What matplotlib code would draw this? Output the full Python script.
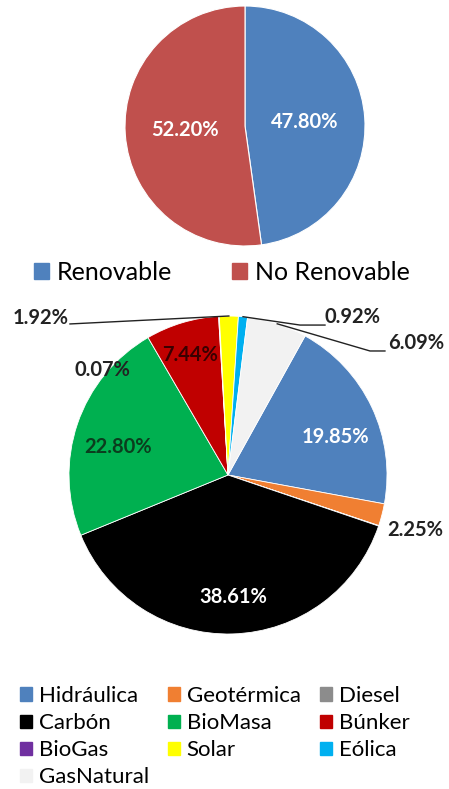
import numpy as np
from matplotlib import pyplot as plt
from matplotlib.patches import Patch

plt.rcParams["font.family"] = ["Lato", "DejaVu Sans"]

# top chart
share_labels = ["Renovable", "No Renovable"]
share_values = [47.80, 52.20]
share_colors = ["#4F81BD", "#C0504D"]

# bottom chart
source_labels = [
    "Hidráulica", "Geotérmica", "Diesel", "Carbón", "BioMasa",
    "Búnker", "BioGas", "Solar", "Eólica", "GasNatural",
]
source_values = [19.85, 2.25, 0.05, 38.61, 22.80, 7.44, 0.07, 1.92, 0.92, 6.09]
source_colors = [
    "#4F81BD", "#F07F32", "#8C8C8C", "#000000", "#00B050",
    "#C00000", "#7030A0", "#FFFF00", "#00B0F0", "#F2F2F2",
]

W, H = 449, 789
fig = plt.figure(figsize=(W / 100, H / 100), dpi=100)


def pie_axes(cx, cy, r):
    # axes box in pixels around a pie of radius 1
    ax = fig.add_axes([(cx - r) / W, 1 - (cy + r) / H, 2 * r / W, 2 * r / H])
    return ax


# --- top pie
ax1 = pie_axes(245, 126, 120)
ax1.pie(
    share_values,
    colors=share_colors,
    startangle=90,
    counterclock=False,
    radius=1,
    autopct="%.2f%%",
    pctdistance=0.5,
    wedgeprops=dict(edgecolor="white", linewidth=0.8),
    textprops=dict(color="white", fontsize=14.5, fontweight="bold"),
)
ax1.set_xlim(-1, 1)
ax1.set_ylim(-1, 1)
ax1.axis("off")

fig.legend(
    [Patch(color=c) for c in share_colors],
    share_labels,
    loc="center",
    bbox_to_anchor=(222 / W, 1 - 272 / H),
    ncol=2,
    frameon=False,
    fontsize=18,
    handlelength=0.6,
    handleheight=0.6,
    handletextpad=0.3,
    columnspacing=2.4,
)

# --- bottom pie
ax2 = pie_axes(228, 475, 159)
wedges, _ = ax2.pie(
    source_values,
    colors=source_colors,
    startangle=61,
    counterclock=False,
    radius=1,
    wedgeprops=dict(edgecolor="white", linewidth=0.6),
)
ax2.set_xlim(-1, 1)
ax2.set_ylim(-1, 1)
ax2.axis("off")

# label placement (data coords), text colour, leader line bend points
label_pos = {
    "Hidráulica": ((0.673, 0.239), "white", None),
    "Geotérmica": ((1.176, -0.346), "#222222", None),
    "Carbón": ((0.031, -0.767), "white", None),
    "BioMasa": ((-0.692, 0.176), "#0B3D1E", None),
    "Búnker": ((-0.239, 0.755), "#3A0000", None),
    "BioGas": ((-0.792, 0.660), "#222222", None),
    "Solar": ((-1.176, 0.987), "#222222", [(-0.994, 0.950)]),
    "Eólica": ((0.786, 0.994), "#222222", [(0.453, 0.943), (0.610, 0.943)]),
    "GasNatural": ((1.182, 0.830), "#222222", [(0.893, 0.780), (0.987, 0.780)]),
}

for w, name, val in zip(wedges, source_labels, source_values):
    if name not in label_pos:
        continue
    (x, y), color, leader = label_pos[name]
    ax2.text(x, y, f"{val:.2f}%", ha="center", va="center", color=color,
             fontsize=14.5, fontweight="bold", clip_on=False)
    if leader:
        mid = np.deg2rad((w.theta1 + w.theta2) / 2)
        xs = [np.cos(mid)] + [p[0] for p in leader]
        ys = [np.sin(mid)] + [p[1] for p in leader]
        ax2.plot(xs, ys, color="#222222", linewidth=1.0, clip_on=False)

# legend is filled column by column, reorder to read row by row
order = [0, 3, 6, 9, 1, 4, 7, 2, 5, 8]
fig.legend(
    [Patch(color=source_colors[i]) for i in order],
    [source_labels[i] for i in order],
    loc="upper left",
    bbox_to_anchor=(0 / W, 1 - 666 / H),
    ncol=3,
    frameon=False,
    fontsize=16,
    handlelength=0.55,
    handleheight=0.55,
    handletextpad=0.3,
    columnspacing=0.85,
    labelspacing=0.32,
)

fig.savefig("out.png", dpi=100, facecolor="white")
